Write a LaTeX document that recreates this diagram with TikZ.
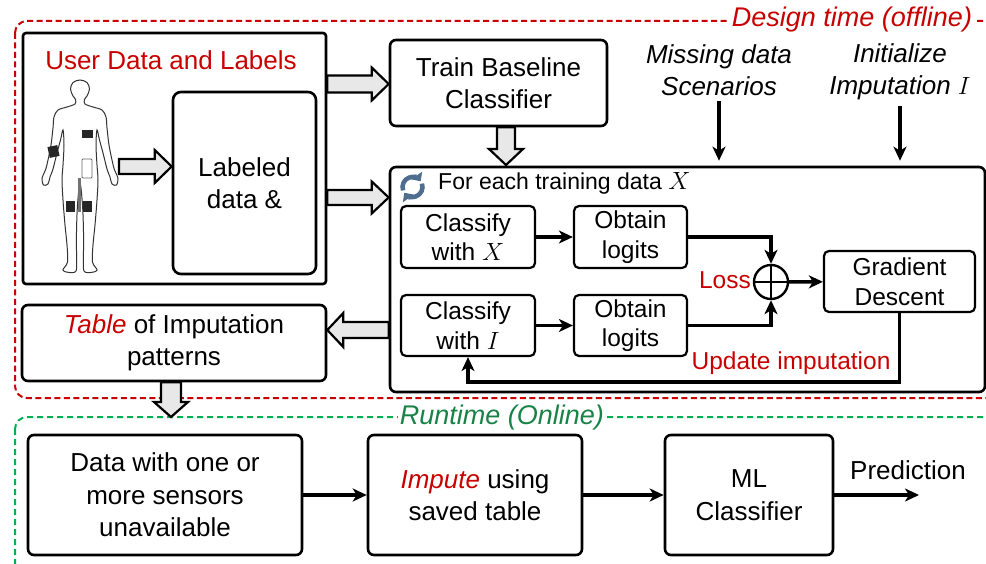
\documentclass[tikz,border=0pt]{standalone}
\usepackage{fontspec}
\setmainfont{Liberation Sans}
\usetikzlibrary{arrows.meta,calc}

\definecolor{dred}{RGB}{200,0,0}
\definecolor{lgreen}{RGB}{0,176,80}
\definecolor{dgreen}{RGB}{25,130,70}
\definecolor{slate}{RGB}{79,109,143}
\definecolor{bafill}{RGB}{232,232,232}

\newcommand\mainsize{\fontsize{26}{32.5}\selectfont}
\newcommand\innersize{\fontsize{24.5}{29.5}\selectfont}
\newcommand\labelsize{\fontsize{24.5}{29.5}\selectfont}

\tikzset{
  box/.style={draw, line width=2.6pt, rounded corners=6pt, align=center,
    inner sep=0pt, font=\mainsize},
  ibox/.style={draw, line width=2.2pt, rounded corners=5pt, align=center,
    inner sep=0pt, font=\innersize},
  flow/.style={line width=3.4pt, -{Stealth[length=14pt,width=13pt,inset=4pt]}},
  blockarrow/.style={draw, line width=2.2pt, fill=bafill, line join=miter},
  phase/.style={fill=white, inner sep=2pt, font=\fontsize{27}{32}\selectfont\itshape},
  cyclearrow/.style={slate, line width=4.5pt, -{Triangle[length=7pt,width=13pt]}},
}

% Wide outlined arrow between two points on a horizontal line:
% #1 tail, #2 tip, #3 shaft half-width, #4 head half-width, #5 head length
\newcommand\wideArrowH[5]{%
  \coordinate (bahead) at ($(#2)!#5!(#1)$);
  \draw[blockarrow] ($(#1)+(0,#3)$) -- ($(bahead)+(0,#3)$) -- ($(bahead)+(0,#4)$)
    -- (#2) -- ($(bahead)+(0,-#4)$) -- ($(bahead)+(0,-#3)$) -- ($(#1)+(0,-#3)$) -- cycle;
}
% Same, on a vertical line
\newcommand\wideArrowV[5]{%
  \coordinate (bahead) at ($(#2)!#5!(#1)$);
  \draw[blockarrow] ($(#1)+(#3,0)$) -- ($(bahead)+(#3,0)$) -- ($(bahead)+(#4,0)$)
    -- (#2) -- ($(bahead)+(-#4,0)$) -- ($(bahead)+(-#3,0)$) -- ($(#1)+(-#3,0)$) -- cycle;
}

\begin{document}
\begin{tikzpicture}[x=1pt, y=-1pt]
\useasboundingbox (0,0) rectangle (986,564);

% ---------------- phase frames ----------------
\draw[dred, line width=2pt, dash pattern=on 6pt off 3.5pt, rounded corners=12pt]
  (15,21) rectangle (1010,398);
\node[phase, text=dred] (design) at (852,20) {Design time (offline)};

\draw[lgreen, line width=2pt, dash pattern=on 6pt off 4pt, rounded corners=12pt]
  (15,417) rectangle (1010,620);
\node[phase, text=dgreen] (runtime) at (502,418) {Runtime (Online)};

% ---------------- user data ----------------
\node[draw, line width=2.6pt, rounded corners=3pt, minimum width=303pt,
  minimum height=251pt, inner sep=0pt] (user) at (174.5,158.5) {};
\node[font=\mainsize, text=dred, inner sep=0pt] (usertitle) at (171,60) {User Data and Labels};
\node[box, rounded corners=8pt, minimum width=143pt, minimum height=182pt] (labeled)
  at (244.5,183) {Labeled\\data \&};

% body outline with worn sensors
\draw[line width=1pt, black!80, fill=white] plot[smooth cycle, tension=0.55] coordinates {
  (80,80) (87,82.5) (89.5,89) (87,96) (84.5,99.5) (85,104) (93,107) (102,110)
  (106,117) (107,128) (109,145) (112,160) (114.5,170) (118,178) (116.5,185)
  (112,184) (110,177) (107,169) (103,153) (99.5,140) (97,130) (96,145)
  (97,165) (98,180) (97,200) (95,225) (93,245) (92.5,262) (97,270) (91,272.5)
  (84,271) (83.5,258) (83.5,232) (82.5,205) (80,183)
  (77.5,205) (76.5,232) (76.5,258) (76,271) (69,272.5) (63,270) (67.5,262)
  (67,245) (65,225) (63,200) (62,180) (63,165) (64,145) (63,130) (60.5,140)
  (57,153) (53,169) (50,177) (48,184) (43.5,185) (42,178) (45.5,170) (48,160)
  (51,145) (53,128) (54,117) (58,110) (67,107) (75,104) (75.5,99.5) (73,96)
  (70.5,89) (73,82.5)};
\fill[black!85] (82,130) rectangle (93,138);
\fill[black!85, rotate around={12:(53.5,151.5)}] (48.5,146) rectangle (58.5,157);
\draw[black!60, line width=0.8pt, fill=white, rounded corners=1pt] (82,159) rectangle (92,178);
\fill[black!55] (78,178) rectangle (80.5,212);
\fill[black!85] (66,201) rectangle (75,212);
\fill[black!85] (83,201) rectangle (92,212);
\coordinate (bodyout) at (119,166.5);

% ---------------- training ----------------
\node[box, minimum width=217pt, minimum height=86pt] (train) at (498.5,83)
  {Train Baseline\\Classifier};

\node[font=\mainsize\itshape, align=center, inner sep=0pt] (miss) at (719,70)
  {Missing data\\Scenarios};
\node[font=\mainsize\itshape, align=center, inner sep=0pt] (init) at (900,72)
  {Initialize\\Imputation $I$};

\node[draw, line width=2.6pt, rounded corners=6pt, minimum width=595pt,
  minimum height=225pt, inner sep=0pt] (loop) at (687.5,279.5) {};

% refresh symbol
\begin{scope}[shift={(412.5,187)}, yscale=-1]
  \draw[cyclearrow] (200:10) arc[start angle=200, end angle=35, radius=10];
  \draw[cyclearrow] (20:10) arc[start angle=20, end angle=-145, radius=10];
  \coordinate (icon) at (0,0);
\end{scope}
\node[font=\fontsize{23}{28}\selectfont, anchor=west, inner sep=0pt] (foreach)
  at (438,183) {For each training data $X$};

\node[ibox, minimum width=134pt, minimum height=62pt] (cx) at (468,237) {Classify\\with $X$};
\node[ibox, minimum width=113pt, minimum height=62pt] (ox) at (630.5,237) {Obtain\\logits};
\node[ibox, minimum width=134pt, minimum height=61pt] (ci) at (468,325.5) {Classify\\with $I$};
\node[ibox, minimum width=113pt, minimum height=61pt] (oi) at (630.5,325.5) {Obtain\\logits};

\node[circle, draw, line width=2.4pt, minimum size=34pt, inner sep=0pt] (sum) at (771,282) {};
\draw[line width=2.2pt] (sum.north) -- (sum.south) (sum.west) -- (sum.east);
\node[font=\labelsize, text=dred, anchor=east, inner sep=0pt] (loss) at (751,280) {Loss};

\node[ibox, minimum width=151pt, minimum height=61pt] (gd) at (899.5,281.5) {Gradient\\Descent};
\node[font=\labelsize, text=dred, inner sep=0pt] (update) at (791,363) {Update imputation};

\node[box, minimum width=304pt, minimum height=76pt] (table) at (174,343)
  {\textcolor{dred}{\textit{Table}} of Imputation\\patterns};

% ---------------- runtime ----------------
\node[box, minimum width=274pt, minimum height=120pt] (data) at (165,495)
  {Data with one or\\more sensors\\unavailable};
\node[box, minimum width=214pt, minimum height=120pt] (impute) at (475,495)
  {\textcolor{dred}{\textit{Impute}} using\\saved table};
\node[box, minimum width=168pt, minimum height=120pt] (ml) at (749,495)
  {ML\\Classifier};
\node[font=\mainsize, inner sep=0pt] (pred) at (908,470) {Prediction};
\coordinate (predend) at (919,495);

% ---------------- wide arrows ----------------
\coordinate (a1) at (labeled.west |- bodyout);
\wideArrowH{bodyout}{a1}{7.5}{16.5}{17pt}
\coordinate (a2s) at (user.east |- 0,84);
\coordinate (a2e) at (train.west |- 0,84);
\wideArrowH{a2s}{a2e}{8.5}{16.5}{17pt}
\coordinate (a3s) at (user.east |- 0,197.5);
\coordinate (a3e) at (loop.west |- 0,197.5);
\wideArrowH{a3s}{a3e}{7.5}{16}{17pt}
\coordinate (a4s) at (train.south -| 506,0);
\coordinate (a4e) at (506,165);
\wideArrowV{a4s}{a4e}{9}{17}{16pt}
\coordinate (a5s) at (loop.west |- 0,330);
\coordinate (a5e) at (table.east |- 0,330);
\wideArrowH{a5s}{a5e}{8}{17}{16pt}
\coordinate (a6s) at (table.south -| 171,0);
\coordinate (a6e) at (171,417);
\wideArrowV{a6s}{a6e}{10}{17}{15pt}

% ---------------- flow arrows ----------------
\draw[flow] ($(miss.south)+(0,5)$) -- ($(miss.south |- loop.north)+(0,-5)$);
\draw[flow] ($(init.south)+(0,5)$) -- ($(init.south |- loop.north)+(0,-5)$);
\draw[flow] (cx) -- (ox);
\draw[flow] (ci) -- (oi);
\draw[flow] (ox.east) -| (sum.north);
\draw[flow] (oi.east) -| (sum.south);
\draw[flow] (sum) -- (gd);
\draw[flow] (gd.south) -- ++(0,69) -| (ci.south);
\draw[flow] (data) -- (impute);
\draw[flow] (impute) -- (ml);
\draw[flow] (ml.east) -- (predend);
\end{tikzpicture}
\end{document}
